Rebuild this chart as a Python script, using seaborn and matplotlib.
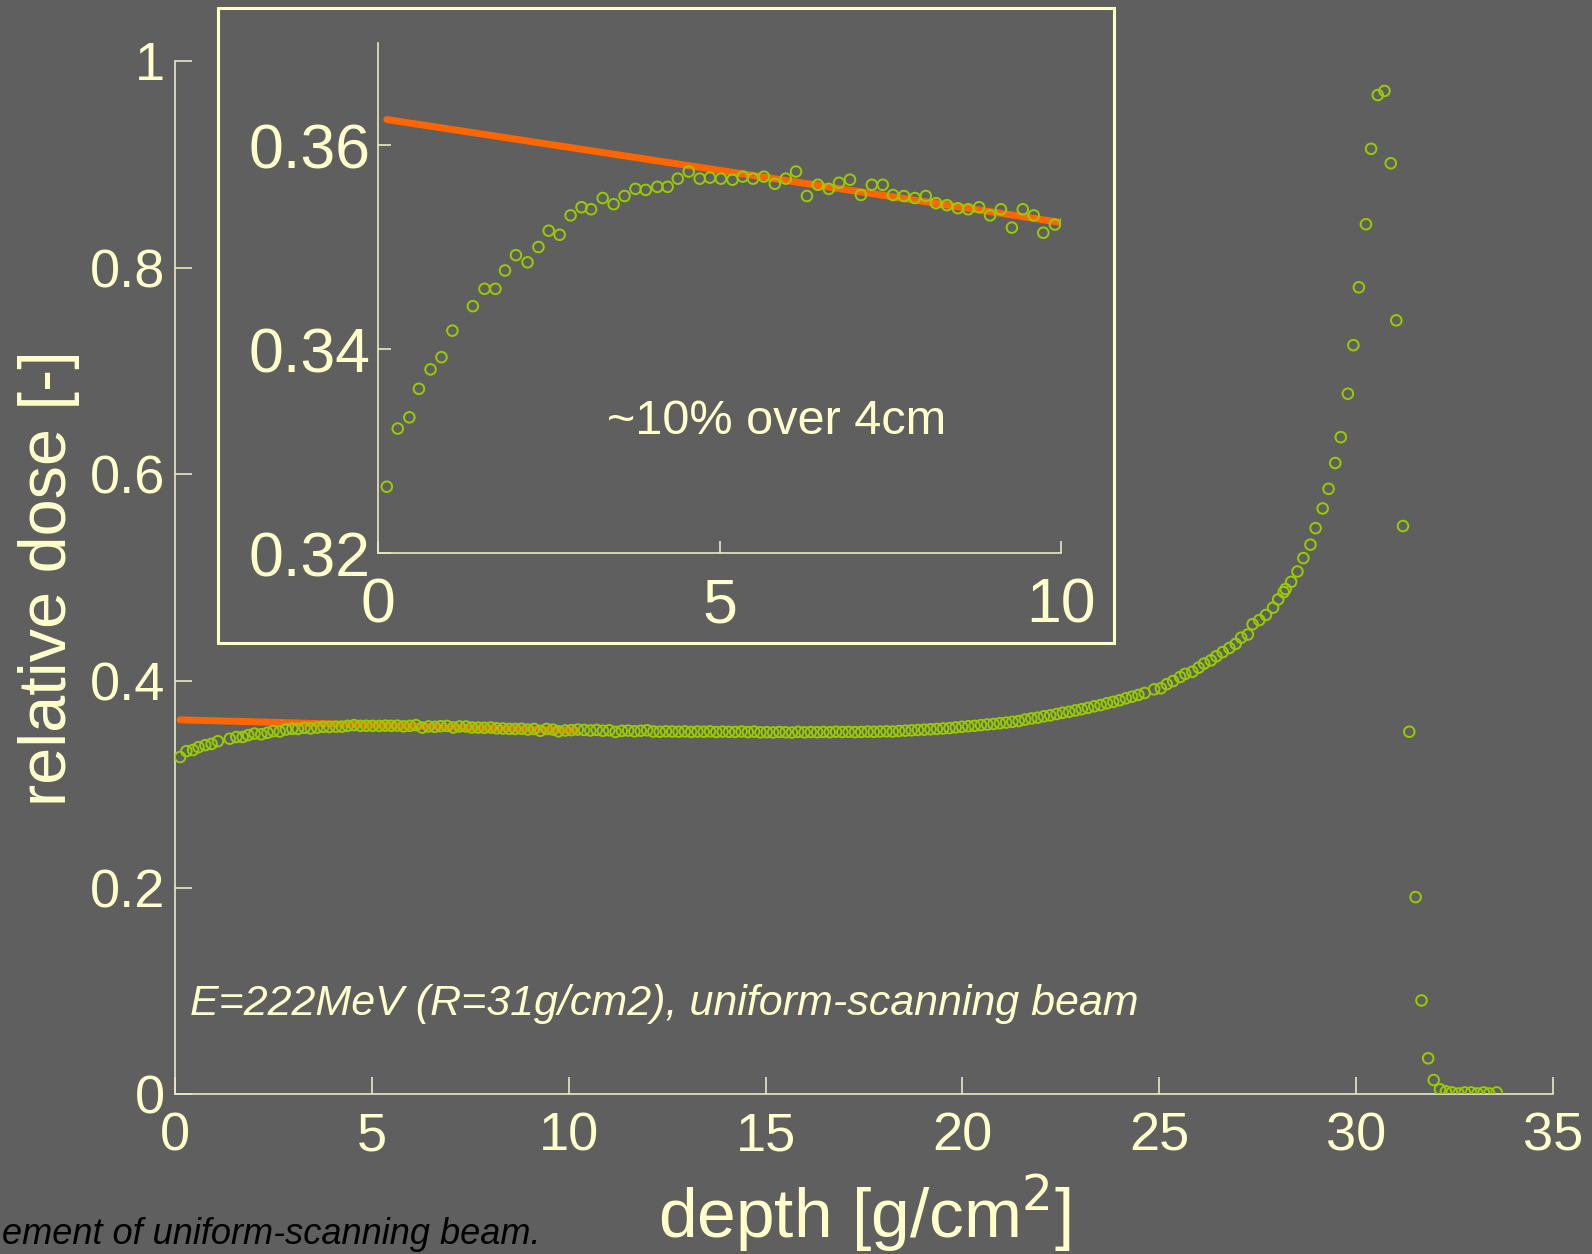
import numpy as np
import pandas as pd
import seaborn as sns
import matplotlib.pyplot as plt
from matplotlib.patches import Rectangle

depth = [0.13, 0.29, 0.46, 0.60, 0.77, 0.93, 1.09, 1.39, 1.56, 1.72,
         1.86, 2.02, 2.19, 2.35, 2.50, 2.66, 2.82, 2.98, 3.12, 3.29,
         3.45, 3.61, 3.77, 3.92, 4.09, 4.24, 4.39, 4.55, 4.71, 4.86,
         5.02, 5.19, 5.34, 5.49, 5.65, 5.81, 5.97, 6.12, 6.28, 6.44,
         6.60, 6.75, 6.91, 7.07, 7.23, 7.39, 7.54, 7.70, 7.86, 8.02,
         8.17, 8.33, 8.49, 8.64, 8.80, 8.96, 9.12, 9.28, 9.44, 9.60,
         9.74, 9.91,
         10.07, 10.23, 10.39, 10.55, 10.71, 10.87, 11.03, 11.19, 11.35, 11.51,
         11.67, 11.83, 11.99, 12.15, 12.31, 12.47, 12.63, 12.79, 12.95, 13.11,
         13.27, 13.43, 13.59, 13.75, 13.91, 14.07, 14.23, 14.39, 14.55, 14.71,
         14.87, 15.03, 15.19, 15.35, 15.51, 15.67, 15.83, 15.99, 16.15, 16.31,
         16.47, 16.63, 16.79, 16.95, 17.11, 17.27, 17.43, 17.59, 17.75, 17.91,
         18.07, 18.23, 18.39, 18.55, 18.71, 18.87, 19.03, 19.19, 19.35, 19.51,
         19.67, 19.83, 19.99, 20.15, 20.31, 20.47, 20.63, 20.79, 20.95, 21.11,
         21.27, 21.43, 21.59, 21.75, 21.91, 22.07, 22.23, 22.39, 22.55, 22.71,
         22.87, 23.03, 23.19, 23.35, 23.51, 23.67, 23.83, 23.99, 24.15, 24.31,
         24.47, 24.63,
         24.87, 25.04, 25.19, 25.35, 25.53, 25.66, 25.84, 26.00, 26.14, 26.31,
         26.45, 26.61, 26.78, 26.94, 27.08, 27.25, 27.37, 27.54, 27.71, 27.89,
         28.02, 28.16, 28.21, 28.35, 28.51, 28.66, 28.84, 28.97, 29.15, 29.30,
         29.47, 29.61, 29.79, 29.93, 30.07, 30.25, 30.38, 30.55, 30.72, 30.88,
         31.02, 31.19, 31.35, 31.51, 31.66, 31.83, 31.97, 32.13, 32.28, 32.43,
         32.60, 32.76, 32.92, 33.08, 33.24, 33.38, 33.57]

dose = [0.3265, 0.3322, 0.3333, 0.3361, 0.3380, 0.3392, 0.3418, 0.3442, 0.3459, 0.3459,
        0.3477, 0.3492, 0.3485, 0.3500, 0.3516, 0.3512, 0.3531, 0.3539, 0.3537, 0.3548,
        0.3542, 0.3550, 0.3557, 0.3556, 0.3559, 0.3559, 0.3567, 0.3574, 0.3567, 0.3568,
        0.3567, 0.3566, 0.3569, 0.3567, 0.3569, 0.3562, 0.3567, 0.3574, 0.3550, 0.3561,
        0.3557, 0.3563, 0.3566, 0.3551, 0.3561, 0.3561, 0.3551, 0.3550, 0.3548, 0.3550,
        0.3543, 0.3541, 0.3538, 0.3537, 0.3539, 0.3531, 0.3537, 0.3519, 0.3537, 0.3531,
        0.3514, 0.3522,
        0.3525, 0.3531, 0.3527, 0.3522, 0.3528, 0.3519, 0.3524, 0.3508, 0.3518, 0.3521,
        0.3514, 0.3519, 0.3524, 0.3512, 0.3510, 0.3514, 0.3512, 0.3510, 0.3513, 0.3508,
        0.3512, 0.3510, 0.3513, 0.3507, 0.3511, 0.3509, 0.3508, 0.3512, 0.3506, 0.3511,
        0.3504, 0.3506, 0.3503, 0.3508, 0.3505, 0.3502, 0.3509, 0.3504, 0.3507, 0.3505,
        0.3508, 0.3505, 0.3510, 0.3507, 0.3509, 0.3506, 0.3508, 0.3511, 0.3509, 0.3512,
        0.3514, 0.3512, 0.3517, 0.3520, 0.3523, 0.3527, 0.3530, 0.3534, 0.3537, 0.3541,
        0.3545, 0.3552, 0.3558, 0.3563, 0.3567, 0.3574, 0.3580, 0.3585, 0.3592, 0.3598,
        0.3606, 0.3613, 0.3627, 0.3638, 0.3646, 0.3659, 0.3668, 0.3681, 0.3694, 0.3703,
        0.3716, 0.3728, 0.3741, 0.3756, 0.3768, 0.3785, 0.3799, 0.3814, 0.3833, 0.3849,
        0.3866, 0.3885,
        0.392, 0.393, 0.397, 0.400, 0.404, 0.407, 0.409, 0.413, 0.417, 0.420,
        0.424, 0.428, 0.432, 0.436, 0.442, 0.445, 0.455, 0.459, 0.464, 0.471,
        0.479, 0.486, 0.489, 0.496, 0.506, 0.519, 0.532, 0.548, 0.567, 0.586,
        0.611, 0.636, 0.678, 0.725, 0.781, 0.842, 0.915, 0.967, 0.971, 0.901,
        0.749, 0.550, 0.351, 0.191, 0.091, 0.035, 0.014, 0.005, 0.003, 0.002,
        0.001, 0.002, 0.002, 0.001, 0.002, 0.001, 0.002]

# linear fit over the plateau
fit_depth = [0.13, 10.2]
fit_dose = [0.3625, 0.3522]

main_xticks = [0, 5, 10, 15, 20, 25, 30, 35]
main_yticks = [0, 0.2, 0.4, 0.6, 0.8, 1]
inset_xticks = [0, 5, 10]
inset_yticks = [0.32, 0.34, 0.36]

bg = '#5f5f5f'
cream = '#ffffcc'
axcol = '#e8e8c4'
green = '#99cc00'
orange = '#ff6600'

sns.set_theme(style='ticks', rc={
    'figure.facecolor': bg, 'axes.facecolor': bg, 'savefig.facecolor': bg,
    'axes.edgecolor': axcol, 'axes.linewidth': 1.2,
    'xtick.color': axcol, 'ytick.color': axcol,
    'xtick.labelcolor': cream, 'ytick.labelcolor': cream,
    'xtick.direction': 'in', 'ytick.direction': 'in',
    'axes.labelcolor': cream, 'text.color': cream,
})
plt.rcParams['font.family'] = ['Liberation Sans', 'DejaVu Sans']

df = pd.DataFrame({'depth': depth, 'dose': dose})
fit = pd.DataFrame({'depth': fit_depth, 'dose': fit_dose})

fig = plt.figure(figsize=(15.92, 12.54), dpi=100)
ax = fig.add_axes([0.1099, 0.1272, 0.8656, 0.8242])
axin = fig.add_axes([0.2374, 0.559, 0.4291, 0.4067])


def draw(a):
    sns.lineplot(data=fit, x='depth', y='dose', ax=a, color=orange, lw=5, zorder=2)
    sns.scatterplot(data=df, x='depth', y='dose', ax=a, marker='o', s=58,
                    facecolors='none', edgecolor=green, linewidth=1.4, zorder=3)
    sns.despine(ax=a)
    a.set_xlabel('')
    a.set_ylabel('')


draw(ax)
ax.set_xlim(0, 35)
ax.set_ylim(0, 1)
ax.set_xticks(main_xticks)
ax.set_yticks(main_yticks)
ax.set_yticklabels(['%g' % v for v in main_yticks])
ax.tick_params(axis='both', length=12, width=1.2, labelsize=39)
ax.tick_params(axis='x', pad=12)
ax.tick_params(axis='y', pad=7)
ax.set_xlabel('depth [g/cm$^2$]', fontsize=50)
ax.xaxis.set_label_coords(0.5, -0.076)
ax.xaxis.label.set_va('top')
ax.set_ylabel('relative dose [-]', fontsize=48)
ax.yaxis.set_label_coords(-0.069, 0.5)
ax.text(0.0109, 0.088, 'E=222MeV (R=31g/cm2), uniform-scanning beam',
        transform=ax.transAxes, fontsize=31, style='italic', color=cream,
        ha='left', va='center')

draw(axin)
axin.set_xlim(0, 10)
axin.set_ylim(0.32, 0.37)
axin.set_xticks(inset_xticks)
axin.set_yticks(inset_yticks)
axin.set_yticklabels(['%.2f' % v for v in inset_yticks])
axin.tick_params(axis='both', length=9, width=1.2, labelsize=45)
axin.tick_params(axis='x', pad=17)
axin.tick_params(axis='y', pad=5)
axin.text(0.335, 0.257, '~10% over 4cm', transform=axin.transAxes,
          fontsize=35, color=cream, ha='left', va='center')

fig.add_artist(Rectangle((0.1369, 0.4872), 0.5628, 0.5064, transform=fig.transFigure,
                         fill=False, ec=cream, lw=2.2))

fig.text(2 / 1592, 2 / 1254, 'ement of uniform-scanning beam.', fontsize=26,
         style='italic', color='black', ha='left', va='bottom')

fig.savefig('out.png', dpi=100, facecolor=bg)
